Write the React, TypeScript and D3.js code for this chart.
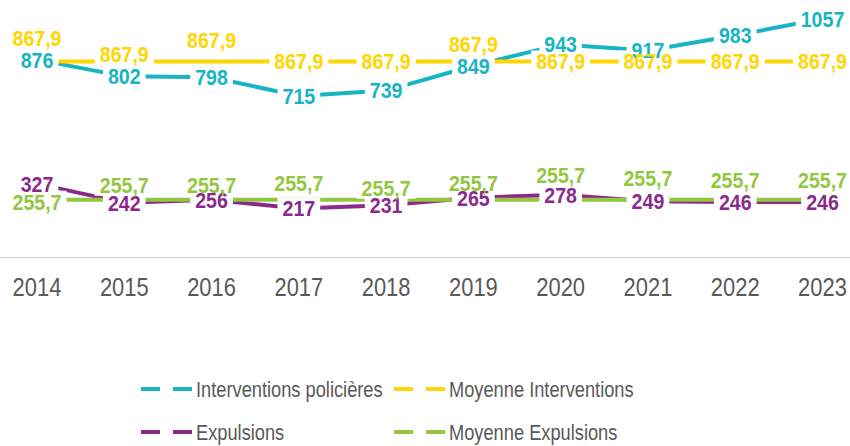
import React, { useRef, useEffect } from 'react';
import * as d3 from 'd3';

// chart values
const years = ['2014', '2015', '2016', '2017', '2018', '2019', '2020', '2021', '2022', '2023'];
const interventions = [876, 802, 798, 715, 739, 849, 943, 917, 983, 1057];
const moyenneInterventions = [867.9, 867.9, 867.9, 867.9, 867.9, 867.9, 867.9, 867.9, 867.9, 867.9];
const expulsions = [327, 242, 256, 217, 231, 265, 278, 249, 246, 246];
const moyenneExpulsions = [255.7, 255.7, 255.7, 255.7, 255.7, 255.7, 255.7, 255.7, 255.7, 255.7];

// label nudges (px) where the labels were moved off the point
const yellowShift = [-23, -7, -21, 0, 0, -17, 0, 0, 0, 0];
const greenShift = [2, -15, -15, -17, -12, -17, -25, -22, -20, -20];

const series = [
  { name: 'Interventions policières', values: interventions, color: '#17B4C3', shift: null },
  { name: 'Moyenne Interventions', values: moyenneInterventions, color: '#FFD600', shift: yellowShift },
  { name: 'Expulsions', values: expulsions, color: '#8B2A8C', shift: null },
  { name: 'Moyenne Expulsions', values: moyenneExpulsions, color: '#92C73F', shift: greenShift },
];

// no Arial Narrow here, so squeeze Liberation Sans horizontally
const FONT = '"Liberation Sans", Arial, sans-serif';

function App() {
  const chartRef = useRef<SVGSVGElement>(null);

  useEffect(() => {
    const width = 850;
    const height = 446;

    const svg = d3.select(chartRef.current)
      .attr('width', width)
      .attr('height', height);
    svg.selectAll('*').remove();

    const x = d3.scalePoint<string>().domain(years).range([37, 822.5]);
    const y = d3.scaleLinear().domain([0, 1140]).range([257.5, 0]);

    // axis baseline
    svg.append('line')
      .attr('x1', 0).attr('x2', width)
      .attr('y1', y(0)).attr('y2', y(0))
      .attr('stroke', '#D9D9D9')
      .attr('stroke-width', 1.5);

    // year labels
    svg.append('g')
      .selectAll('text')
      .data(years)
      .enter().append('text')
      .attr('transform', d => `translate(${x(d)},296) scale(0.86,1)`)
      .attr('text-anchor', 'middle')
      .attr('font-family', FONT)
      .attr('font-size', 25.5)
      .attr('fill', '#595959')
      .text(d => d);

    const line = d3.line<number>()
      .x((_, i) => x(years[i])!)
      .y(d => y(d));

    // lines
    series.forEach(s => {
      svg.append('path')
        .datum(s.values)
        .attr('d', line)
        .attr('fill', 'none')
        .attr('stroke', s.color)
        .attr('stroke-width', 4);
    });

    // data labels: white boxes first, then all texts
    const fs = 22;
    const sx = 0.89;
    const boxes = svg.append('g');
    const texts = svg.append('g');
    series.forEach(s => {
      s.values.forEach((v, i) => {
        const cx = x(years[i])!;
        const cy = y(v) + (s.shift ? s.shift[i] : 0);
        const t = texts.append('text')
          .attr('transform', `translate(${cx},${cy + fs * 0.36}) scale(${sx},1)`)
          .attr('text-anchor', 'middle')
          .attr('font-family', FONT)
          .attr('font-weight', 'bold')
          .attr('font-size', fs)
          .attr('fill', s.color)
          .text(String(v).replace('.', ','));
        const w = (t.node() as SVGTextElement).getBBox().width * sx;
        boxes.append('rect')
          .attr('x', cx - w / 2 - 5)
          .attr('y', cy - 11)
          .attr('width', w + 10)
          .attr('height', 22)
          .attr('fill', '#fff');
      });
    });

    // legend
    const legendPos = [
      { x: 141, y: 389 },
      { x: 394, y: 389 },
      { x: 141, y: 432 },
      { x: 394, y: 432 },
    ];
    series.forEach((s, i) => {
      const p = legendPos[i];
      svg.append('line')
        .attr('x1', p.x).attr('x2', p.x + 51)
        .attr('y1', p.y).attr('y2', p.y)
        .attr('stroke', s.color)
        .attr('stroke-width', 4)
        .attr('stroke-dasharray', '19 13');
      svg.append('text')
        .attr('transform', `translate(${p.x + 55},${p.y + 8}) scale(0.83,1)`)
        .attr('font-family', FONT)
        .attr('font-size', 22)
        .attr('fill', '#595959')
        .text(s.name);
    });
  }, []);

  return (
    <svg ref={chartRef} style={{ position: 'absolute', left: 0, top: 0, background: '#fff' }}></svg>
  );
}

export default App;
